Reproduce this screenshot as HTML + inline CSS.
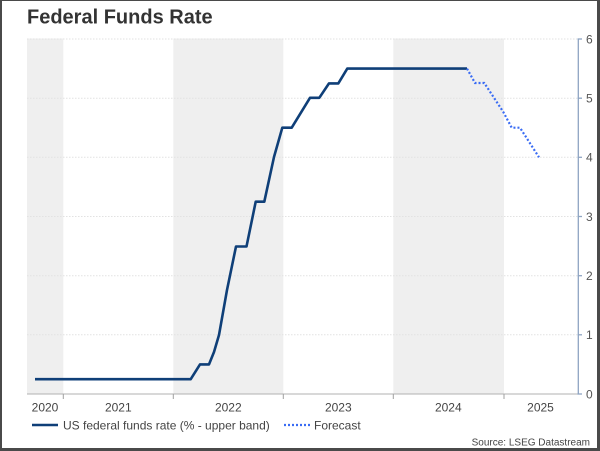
<!DOCTYPE html>
<html><head><meta charset="utf-8"><style>
html,body{margin:0;padding:0;background:#fff}
body{width:600px;height:451px;overflow:hidden}
svg{display:block}
text{font-family:"Liberation Sans",Arial,sans-serif}
</style></head><body>
<svg width="600" height="451" viewBox="0 0 600 451" xmlns="http://www.w3.org/2000/svg">
<rect x="0" y="0" width="600" height="451" fill="#4a4a4a"/>
<rect x="2" y="1" width="595" height="447" fill="#ffffff"/>
<text x="27" y="23.5" font-size="20" font-weight="bold" fill="#333">Federal Funds Rate</text>
<!-- shaded bands -->
<rect x="27" y="38.5" width="36.3" height="355.5" fill="#efefef"/>
<rect x="173.3" y="38.5" width="110" height="355.5" fill="#efefef"/>
<rect x="393.3" y="38.5" width="110.7" height="355.5" fill="#efefef"/>
<!-- grid -->
<g stroke="#e2e2e2" stroke-width="1" stroke-dasharray="1.5 1.5">
<line x1="27" y1="39" x2="577" y2="39"/>
<line x1="27" y1="98.2" x2="577" y2="98.2"/>
<line x1="27" y1="157.3" x2="577" y2="157.3"/>
<line x1="27" y1="216.5" x2="577" y2="216.5"/>
<line x1="27" y1="275.7" x2="577" y2="275.7"/>
<line x1="27" y1="334.8" x2="577" y2="334.8"/>
</g>
<!-- x axis -->
<line x1="27" y1="394" x2="578" y2="394" stroke="#b0b0b0" stroke-width="1"/>
<g stroke="#a0a0a0" stroke-width="1">
<line x1="63.3" y1="394" x2="63.3" y2="399"/>
<line x1="173.3" y1="394" x2="173.3" y2="399"/>
<line x1="283.3" y1="394" x2="283.3" y2="399"/>
<line x1="393.3" y1="394" x2="393.3" y2="399"/>
<line x1="504" y1="394" x2="504" y2="399"/>
</g>
<g font-size="12" fill="#444" text-anchor="middle">
<text x="45" y="411.7">2020</text>
<text x="118.3" y="411.7">2021</text>
<text x="228.3" y="411.7">2022</text>
<text x="338.3" y="411.7">2023</text>
<text x="448.3" y="411.7">2024</text>
<text x="540.5" y="411.7">2025</text>
</g>
<!-- right axis -->
<line x1="578.3" y1="39" x2="578.3" y2="394.5" stroke="#8ea4c2" stroke-width="1.3"/>
<g stroke="#8ea4c2" stroke-width="1.3">
<line x1="577.5" y1="39" x2="582" y2="39"/>
<line x1="577.5" y1="98.2" x2="582" y2="98.2"/>
<line x1="577.5" y1="157.3" x2="582" y2="157.3"/>
<line x1="577.5" y1="216.5" x2="582" y2="216.5"/>
<line x1="577.5" y1="275.7" x2="582" y2="275.7"/>
<line x1="577.5" y1="334.8" x2="582" y2="334.8"/>
<line x1="577.5" y1="394" x2="582" y2="394"/>
</g>
<g font-size="12" fill="#555">
<text x="586" y="43.3">6</text>
<text x="586" y="102.5">5</text>
<text x="586" y="161.6">4</text>
<text x="586" y="220.8">3</text>
<text x="586" y="280">2</text>
<text x="586" y="339.1">1</text>
<text x="586" y="398.3">0</text>
</g>
<!-- series -->
<polyline fill="none" stroke="#0f3f78" stroke-width="2.6" stroke-linejoin="round"
points="35,379.2 190.7,379.2 200,364.4 209,364.4 214,352 219,335 227,290 236,246.5 246.5,246.5 255.7,201.7 264.3,201.7 274,157 282.3,127.7 291.7,127.7 310,97.8 319.3,97.8 329,83.4 338.3,83.4 347.3,68.6 467,68.6"/>
<polyline fill="none" stroke="#3a6cf4" stroke-width="2.2" stroke-dasharray="2 2"
points="467,68.6 475,83 484.3,83 503.3,112 511.7,127.7 520,127.7 539,157.3"/>
<!-- legend -->
<line x1="32" y1="425" x2="58" y2="425" stroke="#0f3f78" stroke-width="2.6"/>
<text x="63" y="429.3" font-size="12" fill="#444">US federal funds rate (% - upper band)</text>
<line x1="284" y1="425" x2="310" y2="425" stroke="#3a6cf4" stroke-width="2.2" stroke-dasharray="2 2"/>
<text x="314" y="429.3" font-size="12" fill="#444">Forecast</text>
<text x="590" y="445.3" font-size="10" fill="#444" text-anchor="end">Source: LSEG Datastream</text>
</svg>
</body></html>
